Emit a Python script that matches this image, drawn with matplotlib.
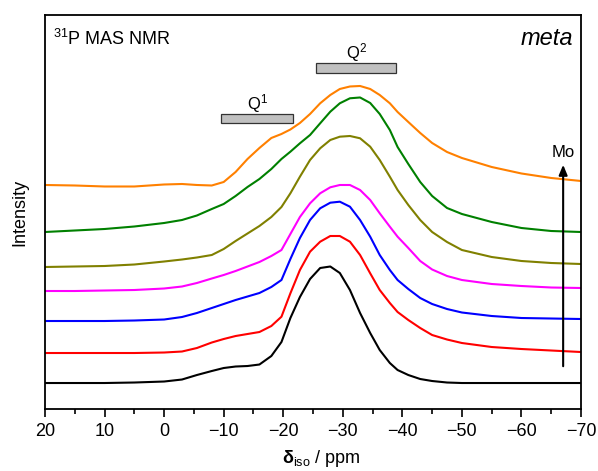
import matplotlib
matplotlib.use("Agg")
import matplotlib.pyplot as plt
from matplotlib.patches import Rectangle

plt.rcParams['font.family'] = ['Liberation Sans', 'DejaVu Sans']
plt.rcParams['mathtext.fontset'] = 'custom'
plt.rcParams['mathtext.rm'] = 'Liberation Sans'
plt.rcParams['mathtext.it'] = 'Liberation Sans:italic'
plt.rcParams['mathtext.bf'] = 'Liberation Sans:bold'

# chemical shift grid (ppm) and stacked spectra (offset intensity, a.u.)
ppm = [20, 15, 10, 5, 0, -3, -5.5, -8, -10, -12, -14, -16, -18, -19.7, -21.2, -22.8,
       -24.5, -26.2, -27.9, -29.5, -31.2, -32.9, -34.6, -36.2, -37.9, -39.2, -41, -43,
       -45, -47.5, -50, -55, -60, -65, -70]

black = [26, 26, 26, 26.5, 27.5, 29.5, 34, 38, 41, 42.5, 43, 44.5, 53, 67, 91, 112,
         130, 141, 142.5, 136, 119, 96, 76, 59, 46, 39, 34, 30,
         28, 26.5, 26, 26, 26, 26, 26]
red = [56, 56, 56, 56, 56.5, 57.5, 61, 66.5, 70, 73, 75, 77, 83, 92.3, 115.7, 139,
       157.3, 167.3, 173, 173, 167.3, 154, 135.7, 119, 106, 97, 89, 81,
       74, 69.5, 66, 62, 60, 58.5, 57]
blue = [88, 88, 88, 88.5, 89.5, 92, 96, 101, 105, 109, 112.5, 116, 122, 129, 150, 171,
        189, 200.7, 206.3, 207.3, 202.3, 189, 172.3, 154, 139, 129, 120, 111,
        105, 100, 96.5, 93, 91, 90.5, 90]
magenta = [118, 118, 118.5, 119, 120.5, 122.5, 126, 130.5, 134, 138, 142.5, 147, 153, 159, 175, 192,
           205.7, 215.7, 221.7, 224, 224, 219, 209, 195.7, 182.3, 172.3, 161, 148,
           139.5, 133, 129, 125, 123, 121.5, 121]
olive = [142, 142.5, 143, 144.5, 147.5, 149.5, 151.5, 154, 160, 168, 175.5, 183, 192, 202, 215.7, 232.3,
         249, 260.7, 269, 272.3, 273, 270.7, 262.3, 249, 232.3, 219, 204, 189,
         177, 167, 159, 152, 148, 146, 145]
green = [177, 178.5, 180, 182.5, 186, 189, 193.5, 200, 205, 213, 222, 230, 240, 250, 257.3, 265.7,
         274, 285.7, 297.3, 305.7, 310.7, 311.5, 306, 295, 279, 262, 245, 227,
         213, 201, 195, 187, 181, 178, 177]
orange = [224, 223.5, 222.5, 222.5, 224.5, 225, 224, 223.5, 227, 237, 250, 261, 271, 275, 279.5, 286,
          295, 305.7, 314, 320, 322.5, 323, 320, 314, 305.7, 297, 287, 276,
          266, 257, 251, 242, 235.5, 231, 228]

spectra = [black, red, blue, magenta, olive, green, orange]
colors = ['black', '#FF0000', '#0000FF', '#FF00FF', '#808000', '#008000', '#FF8000']

# Q^n ranges (ppm)
q1 = (-9.5, -21.7)
q2 = (-25.5, -39.0)

fig = plt.figure(figsize=(5.98, 4.71), dpi=100)
ax = fig.add_axes([0.0753, 0.1316, 0.8963, 0.8366])

for s, c in zip(spectra, colors):
    ax.plot(ppm, s, color=c, lw=1.5, solid_joinstyle='round')

ax.add_patch(Rectangle((q1[0], 286), q1[1] - q1[0], 9, facecolor='#C0C0C0',
                       edgecolor='#333333', lw=0.9))
ax.add_patch(Rectangle((q2[0], 336), q2[1] - q2[0], 10, facecolor='#C0C0C0',
                       edgecolor='#333333', lw=0.9))
ax.text((q1[0] + q1[1]) / 2, 300, r'Q$^{1}$', ha='center', va='baseline', fontsize=12)
ax.text((q2[0] + q2[1]) / 2, 351, r'Q$^{2}$', ha='center', va='baseline', fontsize=12)

ax.text(0.015, 0.924, r'$^{31}$P MAS NMR', transform=ax.transAxes, fontsize=13,
        ha='left', va='baseline')
ax.text(0.985, 0.924, 'meta', transform=ax.transAxes, fontsize=17, style='italic',
        ha='right', va='baseline')

ax.annotate('', xy=(-67, 247), xytext=(-67, 40),
            arrowprops=dict(arrowstyle='-|>,head_width=0.25,head_length=0.6',
                            color='black', lw=1.5))
ax.text(-67, 252, 'Mo', ha='center', va='baseline', fontsize=12)

ax.set_xlim(20, -70)
ax.set_ylim(0, 394)
ax.set_xticks(range(20, -71, -10))
ax.set_xticks(range(15, -70, -10), minor=True)
ax.set_yticks([])
ax.tick_params(axis='x', which='major', direction='out', length=6, width=1.2, labelsize=13, pad=4)
ax.tick_params(axis='x', which='minor', direction='out', length=3.5, width=1.2)
for sp in ax.spines.values():
    sp.set_linewidth(1.3)

ax.set_xlabel(r'$\mathbf{\delta}_{\mathrm{iso}}$ / ppm', fontsize=13, labelpad=6)
ax.xaxis.label.set_x(0.515)
ax.set_ylabel('Intensity', fontsize=13, labelpad=12)

fig.savefig('out.png', dpi=100)
